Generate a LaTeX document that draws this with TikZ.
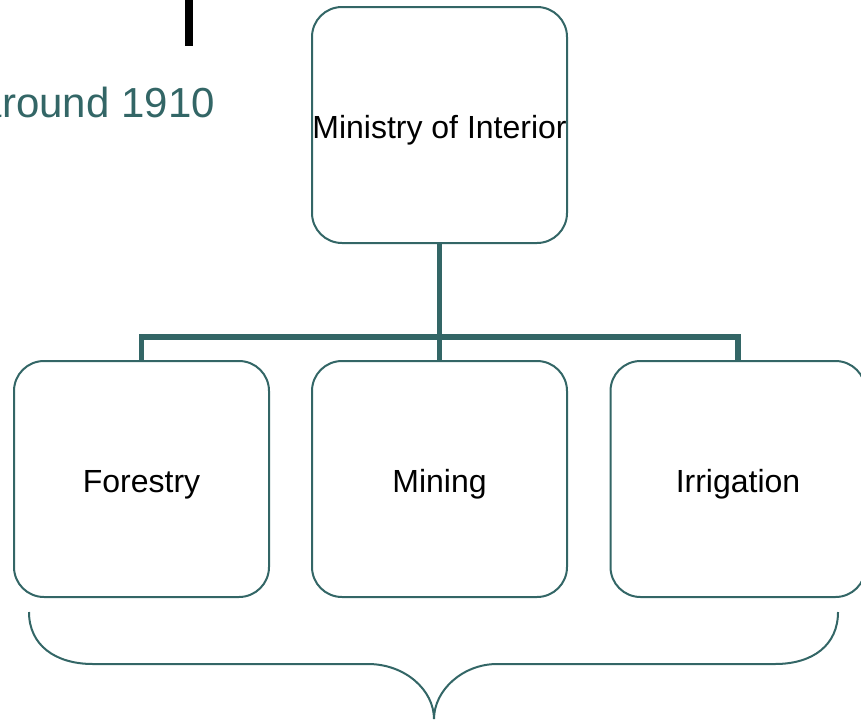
\documentclass[tikz,border=0pt]{standalone}
\usepackage{fontspec}
\setmainfont{Liberation Sans}
\usetikzlibrary{calc,positioning}
\definecolor{slate}{RGB}{51,102,102}
\tikzset{unit/.style={draw=slate,line width=2pt,rounded corners=30pt,minimum width=255pt,
		minimum height=236pt,inner sep=0pt,text height=29pt,text depth=3pt,
		font=\fontsize{32}{38}\selectfont,text=black},
	link/.style={draw=slate,line width=5.5pt},
	curly/.style={draw=slate,line width=2pt}}

\begin{document}
\begin{tikzpicture}[x=1pt,y=-1pt]
			\useasboundingbox (0,0) rectangle (861,720);
			\clip (0,0) rectangle (861,720);
			\fill[black] (185,-2) rectangle (193,46);
			\node[anchor=base east,inner sep=0pt,text=slate,font=\fontsize{42}{48}\selectfont] (era) at (215,117) {around 1910};
			\node[unit] (mi) at (439.5,125) {Ministry of Interior};
			\node[unit] (forestry) at (141.5,479) {Forestry};
			\node[unit] (mining) at (439.5,479) {Mining};
			\node[unit] (irrigation) at (738,479) {Irrigation};
			\coordinate (hub) at (439.5,337);
			\draw[link] (mi.south) -- (mining.north);
			\draw[link] (forestry.north) |- (hub) -| (irrigation.north);
			% brace under the row
			\draw[curly] (29,612) .. controls (29,645) and (55,664) .. (93,664) -- (368,664)
				.. controls (405,664) and (434,690) .. (434,719)
				.. controls (434,690) and (463,664) .. (497,664) -- (775,664)
				.. controls (813,664) and (838,645) .. (838,612);
		\end{tikzpicture}
\end{document}
